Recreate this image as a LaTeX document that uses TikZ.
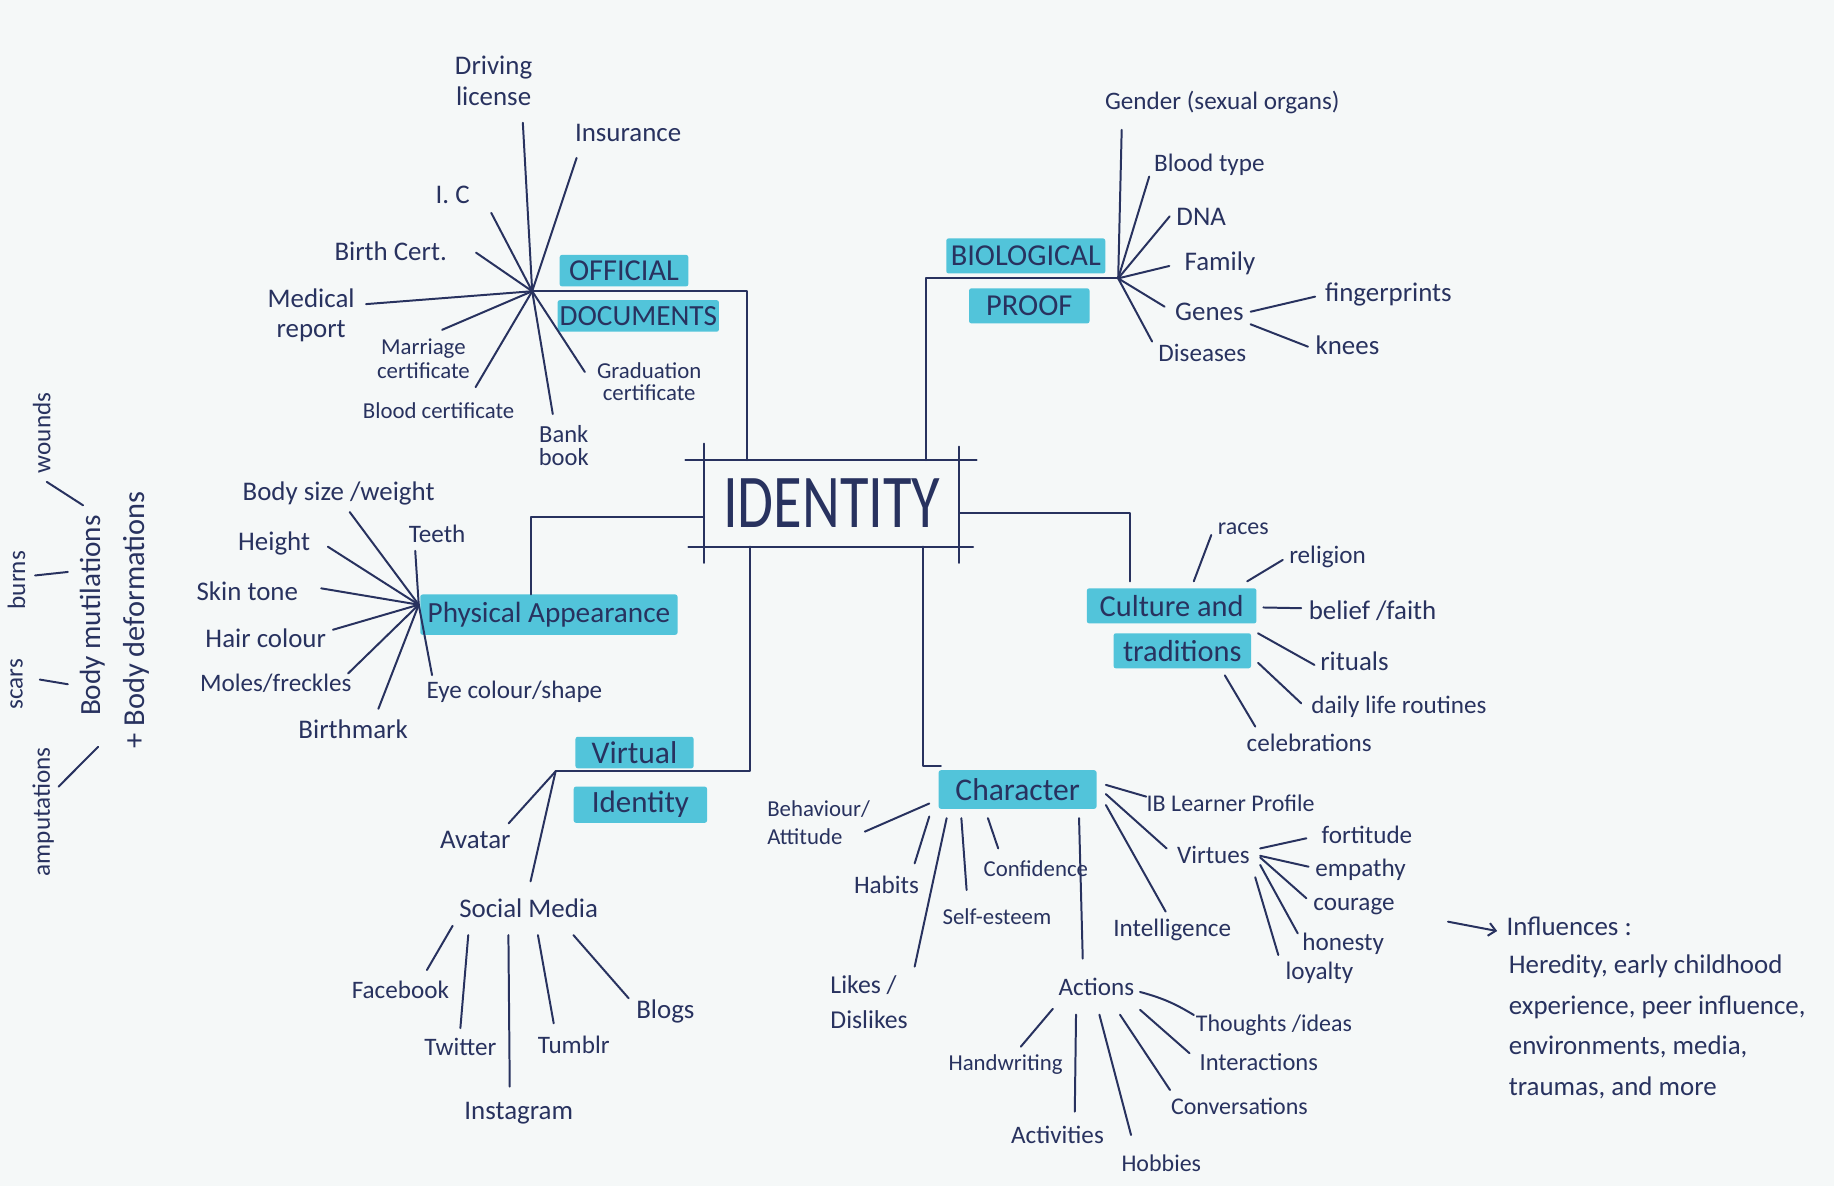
\documentclass[tikz,border=0pt]{standalone}
\usepackage{fontspec}
\setmainfont{Carlito}
\usetikzlibrary{arrows.meta}
\definecolor{ink}{HTML}{28325F}
\definecolor{hl}{HTML}{52C4DA}
\definecolor{paper}{HTML}{F5F8F8}
\tikzset{
  ln/.style={draw=ink, line width=1.7pt, line cap=round, line join=round},
  txt/.style={text=ink, inner sep=1pt, outer sep=0pt},
  lbl/.style={txt, font=\fontsize{23}{27}\selectfont, align=center},
  lbm/.style={txt, font=\fontsize{21.5}{24}\selectfont, align=center},
  sml/.style={txt, font=\fontsize{19.5}{20}\selectfont, align=center},
  head/.style={txt, fill=hl, rounded corners=2pt, font=\fontsize{26}{28}\selectfont},
}
\begin{document}
\begin{tikzpicture}[x=1pt,y=-1pt]
\useasboundingbox (0,0) rectangle (1568,1014);
\fill[paper] (0,0) rectangle (1568,1014);

% ---------- central IDENTITY ----------
\node[txt, inner sep=0pt, minimum width=218, minimum height=74] (id) at (711,430.3)
  {\scalebox{1}[1.3]{\fontsize{50}{50}\selectfont IDENTITY}};
\draw[ln] ([xshift=-16pt]id.north west) -- ([xshift=15pt]id.north east);
\draw[ln] ([xshift=-13.5pt]id.south west) -- ([xshift=12pt]id.south east);
\draw[ln] ([yshift=14pt]id.north west) -- ([yshift=-14pt]id.south west);
\draw[ln] ([yshift=11.5pt]id.north east) -- ([yshift=-14pt]id.south east);

% ---------- OFFICIAL DOCUMENTS ----------
\coordinate (offhub) at (455,249);
\node[head, minimum width=110, minimum height=27] (off1) at (533.5,231.4) {OFFICIAL};
\node[head, minimum width=138, minimum height=27, font=\fontsize{25}{27}\selectfont] (off2) at (545.7,270.1) {DOCUMENTS};
\node[lbl] (drv) at (422,69) {Driving\\license};
\node[lbl] (ins) at (537,114) {Insurance};
\node[lbl] (ic) at (387,167) {I. C};
\node[lbl] (birth) at (334,215) {Birth Cert.};
\node[lbl, font=\fontsize{23}{26}\selectfont] (med) at (266,269.5) {Medical\\report};
\node[sml] (mar) at (362,306.7) {Marriage\\certificate};
\node[sml] (blood) at (375,351) {Blood certificate};
\node[sml, font=\fontsize{21}{20}\selectfont] (bank) at (482,381) {Bank\\book};
\node[sml, font=\fontsize{19.5}{19}\selectfont] (grad) at (555,326) {Graduation\\certificate};
\coordinate (drv-e) at (447,105);
\coordinate (ins-e) at (493,135);
\coordinate (ic-e) at (420,182);
\coordinate (birth-e) at (407,216);
\coordinate (med-e) at (313,260);
\coordinate (mar-e) at (378,282);
\coordinate (blood-e) at (406.6,331);
\coordinate (bank-e) at (472.6,354);
\coordinate (grad-e) at (500,318);
\foreach \e in {drv-e,ins-e,ic-e,birth-e,med-e,mar-e,blood-e,bank-e,grad-e}
  \draw[ln] (offhub) -- (\e);
\draw[ln] (offhub) -| ([xshift=36.5pt]id.north west);

% ---------- BIOLOGICAL PROOF ----------
\coordinate (biohub) at (956,238);
\node[head, minimum width=136, minimum height=30] (bio1) at (877,218.8) {BIOLOGICAL};
\node[head, minimum width=103, minimum height=30] (bio2) at (880,261.5) {PROOF};
\node[lbm] (gend) at (1045,88) {Gender (sexual organs)};
\node[lbm] (btype) at (1034,141) {Blood type};
\node[lbl] (dna) at (1027,185) {DNA};
\node[lbl] (fam) at (1043,225) {Family};
\node[lbl, outer sep=5pt] (genes) at (1034,266.5) {Genes};
\node[lbm] (dis) at (1028,302) {Diseases};
\node[lbl] (fing) at (1187,252) {fingerprints};
\node[lbl] (knees) at (1152,295) {knees};
\coordinate (gend-e) at (959,111);
\coordinate (btype-e) at (982.5,151);
\coordinate (dna-e) at (1000,185);
\coordinate (fam-e) at (999.7,227.4);
\coordinate (genes-e) at (995.7,262.2);
\coordinate (dis-e) at (985,292);
\coordinate (fing-e) at (1124.4,253.6);
\coordinate (knees-e) at (1118.3,296.4);
\foreach \e in {gend-e,btype-e,dna-e,fam-e,genes-e,dis-e}
  \draw[ln] (biohub) -- (\e);
\draw[ln] (genes.east) -- (fing-e);
\draw[ln] (genes.-17) -- (knees-e);
\draw[ln] (biohub) -| ([xshift=-28pt]id.north east);

% ---------- CULTURE AND TRADITIONS ----------
\node[head, minimum width=145, minimum height=30, outer sep=6pt] (cul1) at (1001.7,518) {Culture and};
\node[head, minimum width=117.5, minimum height=30, outer sep=6pt] (cul2) at (1010.8,556.4) {traditions};
\node[sml, font=\fontsize{20.5}{22}\selectfont] (races) at (1063,451.7) {races};
\node[lbm] (relig) at (1135,476) {religion};
\node[lbl] (belief) at (1173.5,522) {belief /faith};
\node[lbl] (rit) at (1158,565.7) {rituals};
\node[lbm] (daily) at (1196,604) {daily life routines};
\node[lbm] (celeb) at (1119.3,635.5) {celebrations};
\coordinate (races-e) at (1035.6,457.4);
\coordinate (relig-e) at (1096.7,478.7);
\coordinate (belief-e) at (1112.5,520);
\coordinate (rit-e) at (1123.8,568.5);
\coordinate (daily-e) at (1112.5,601.3);
\coordinate (celeb-e) at (1073.2,621.2);
\draw[ln] (cul1.48.8) -- (races-e);
\draw[ln] (cul1.18.6) -- (relig-e);
\draw[ln] (cul1.-1.5) -- (belief-e);
\draw[ln] (cul2.13.6) -- (rit-e);
\draw[ln] (cul2.-9.9) -- (daily-e);
\draw[ln] (cul2.-30.3) -- (celeb-e);
\draw[ln] ([yshift=-8.5pt]id.east) -| ([xshift=-36pt]cul1.north);

% ---------- PHYSICAL APPEARANCE ----------
\coordinate (physhub) at (358,517);
\node[head, minimum width=220, minimum height=34.5, font=\fontsize{25}{27}\selectfont] (phys) at (469.3,525.5) {Physical Appearance};
\node[lbl] (bsw) at (289.5,422) {Body size /weight};
\node[lbm] (teeth) at (373.7,456.5) {Teeth};
\node[lbl] (height) at (234.4,465) {Height};
\node[lbl] (skin) at (211.4,505.4) {Skin tone};
\node[lbl] (hair) at (227.2,545.6) {Hair colour};
\node[lbm] (moles) at (235.8,584.4) {Moles/freckles};
\node[lbl] (birthm) at (301.9,623.2) {Birthmark};
\node[lbm] (eye) at (439.8,591.6) {Eye colour/shape};
\coordinate (bsw-e) at (299,437.8);
\coordinate (teeth-e) at (355,470.9);
\coordinate (height-e) at (280.3,467.4);
\coordinate (skin-e) at (274.6,503);
\coordinate (hair-e) at (284.7,538.4);
\coordinate (moles-e) at (297.6,575.8);
\coordinate (birthm-e) at (323.5,606);
\coordinate (eye-e) at (369.4,577.2);
\foreach \e in {bsw-e,teeth-e,height-e,skin-e,hair-e,moles-e,birthm-e,eye-e}
  \draw[ln] (physhub) -- (\e);
\draw[ln] ([yshift=-12pt]id.west) -| ([xshift=-15pt]phys.north);

% ---------- body mutilations (rotated) ----------
\node[txt, rotate=90, font=\fontsize{25}{27}\selectfont] (bm) at (79,526.4) {Body mutilations};
\node[txt, rotate=90, font=\fontsize{26}{28}\selectfont] (bd) at (117,530) {+ Body deformations};
\node[lbm, rotate=90] (wounds) at (35.6,370) {wounds};
\node[lbm, rotate=90] (burns) at (14.2,496) {burns};
\node[lbm, rotate=90] (scars) at (14.2,585) {scars};
\node[lbm, rotate=90] (amp) at (37,694) {amputations};
\coordinate (w1) at (40,412); \coordinate (w2) at (71,432);
\coordinate (b1) at (30,492); \coordinate (b2) at (58,489);
\coordinate (s1) at (34,581); \coordinate (s2) at (58,585);
\coordinate (a1) at (50,672.6); \coordinate (a2) at (84,638.4);
\draw[ln] (w1) -- (w2);
\draw[ln] (b1) -- (b2);
\draw[ln] (s1) -- (s2);
\draw[ln] (a1) -- (a2);

% ---------- VIRTUAL IDENTITY ----------
\coordinate (virthub) at (475,659.5);
\node[head, minimum width=101, minimum height=27, font=\fontsize{27}{28}\selectfont] (v1) at (542.5,643.4) {Virtual};
\node[head, minimum width=114, minimum height=31, font=\fontsize{26.5}{28}\selectfont] (v2) at (547.5,688) {Identity};
\node[lbl] (avatar) at (406.4,718) {Avatar};
\node[lbl, minimum width=124, minimum height=40, outer sep=3pt] (sm) at (452,776.5) {Social Media};
\node[lbm] (fb) at (342.3,846.4) {Facebook};
\node[lbm] (tw) at (393.6,894.8) {Twitter};
\node[lbl] (ig) at (443.5,951.8) {Instagram};
\node[lbm] (tb) at (490.5,893.4) {Tumblr};
\node[lbl] (blog) at (568.9,864.9) {Blogs};
\coordinate (avatar-e) at (434.9,703.9);
\coordinate (fb-e) at (365,829.3);
\coordinate (tw-e) at (393.6,879);
\coordinate (ig-e) at (435.8,929);
\coordinate (tb-e) at (473.4,874.9);
\coordinate (blog-e) at (537.5,853.5);
\draw[ln] (virthub) -- (avatar-e);
\draw[ln] (virthub) -- (sm.86);
\draw[ln] (sm.193.4) -- (fb-e);
\draw[ln] (sm.204.6) -- (tw-e);
\draw[ln] (sm.233) -- (ig-e);
\draw[ln] (sm.-71.3) -- (tb-e);
\draw[ln] (sm.-31.6) -- (blog-e);
\draw[ln] ([xshift=39pt]id.south west) |- (virthub);

% ---------- CHARACTER ----------
\node[head, minimum width=135, minimum height=33, outer sep=8pt, font=\fontsize{27}{28}\selectfont] (char) at (870,675) {Character};
\draw[ln] ([xshift=-31pt]id.south east) |- ([xshift=10pt,yshift=-4pt]char.north west);
\node[sml, font=\fontsize{19.5}{24}\selectfont, align=left, anchor=west] (beh) at (655,703) {Behaviour/\\Attitude};
\node[lbm] (habits) at (757.9,756.6) {Habits};
\node[lbm, font=\fontsize{22}{30}\selectfont, align=left, anchor=west] (likes) at (709,857) {Likes /\\Dislikes};
\node[sml] (self) at (852.3,783.7) {Self-esteem};
\node[sml] (conf) at (885.6,742.4) {Confidence};
\node[lbm, minimum width=64, minimum height=40, outer sep=4pt] (act) at (937.4,843.5) {Actions};
\node[sml, font=\fontsize{20.5}{22}\selectfont] (ib) at (1052.1,686.8) {IB Learner Profile};
\node[lbm, minimum width=72, minimum height=30, outer sep=4pt] (virt) at (1037.4,731) {Virtues};
\node[lbm] (intel) at (1002.2,795.1) {Intelligence};
\node[lbm] (fort) at (1168.7,713.9) {fortitude};
\node[lbm] (emp) at (1163.2,743.8) {empathy};
\node[lbm] (cour) at (1157.6,775.1) {courage};
\node[lbm] (hon) at (1148.4,806.5) {honesty};
\node[lbm] (loy) at (1128.1,832.1) {loyalty};
\node[sml, font=\fontsize{20.5}{22}\selectfont] (thou) at (1089.2,876.3) {Thoughts /ideas};
\node[sml, font=\fontsize{21}{22}\selectfont] (inter) at (1076.2,907.7) {Interactions};
\node[sml, font=\fontsize{20.5}{22}\selectfont] (conv) at (1059.6,946.1) {Conversations};
\node[sml, font=\fontsize{20.5}{22}\selectfont] (hob) at (992.9,994.6) {Hobbies};
\node[sml, font=\fontsize{21.5}{22}\selectfont] (activ) at (904.1,970.4) {Activities};
\node[sml] (hand) at (859.7,910.5) {Handwriting};
\coordinate (beh-e) at (739.4,711);
\coordinate (habits-e) at (782,738.1);
\coordinate (likes-e) at (782,826.4);
\coordinate (self-e) at (826.4,760.9);
\coordinate (conf-e) at (853.4,725.3);
\coordinate (ib-e) at (980,681.1);
\coordinate (intel-e) at (996.6,779.4);
\coordinate (fort-e) at (1116.9,716.7);
\coordinate (emp-e) at (1118.8,741);
\coordinate (cour-e) at (1116.9,768);
\coordinate (hon-e) at (1109.5,798);
\coordinate (loy-e) at (1092.9,816.5);
\coordinate (thou-e) at (1020.7,867.8);
\coordinate (inter-e) at (1017,900.5);
\coordinate (conv-e) at (1000.3,931.9);
\coordinate (hob-e) at (967,970.4);
\coordinate (activ-e) at (918.9,950.4);
\coordinate (hand-e) at (872.7,894.9);
\draw[ln] (char.189.7) -- (beh-e);
\draw[ln] (char.197.6) -- (habits-e);
\draw[ln] (char.202.3) -- (likes-e);
\draw[ln] (char.207.4) -- (self-e);
\draw[ln] (char.224.8) -- (conf-e);
\draw[ln] (char.-25.4) -- (act.116);
\draw[ln] (char.3.1) -- (ib-e);
\draw[ln] (char.-3.9) -- (virt.172.4);
\draw[ln] (char.-10.8) -- (intel-e);
\draw[ln] (virt.8) -- (fort-e);
\draw[ln] (virt.-1) -- (emp-e);
\draw[ln] (virt.-3.8) -- (cour-e);
\draw[ln] (virt.-12.4) -- (hon-e);
\draw[ln] (virt.-28.6) -- (loy-e);
\draw[ln] (act.-7.3) to[bend left=8] (thou-e);
\draw[ln] (act.-28.4) -- (inter-e);
\draw[ln] (act.-50) -- (conv-e);
\draw[ln] (act.-84) -- (hob-e);
\draw[ln] (act.-126.5) -- (activ-e);
\draw[ln] (act.-153.4) -- (hand-e);

% ---------- INFLUENCES ----------
\node[lbl, anchor=west] (inf) at (1287,792) {Influences :};
\node[txt, font=\fontsize{23}{35}\selectfont, align=left, anchor=north west] (inflist) at (1289,815)
  {Heredity, early childhood\\experience, peer influence,\\environments, media,\\traumas, and more};
\coordinate (arr-s) at (1238,788);
\draw[ln, -{Straight Barb[length=6pt,width=11pt]}] (arr-s) -- ([xshift=-7pt,yshift=-4pt]inf.west);
\end{tikzpicture}
\end{document}
